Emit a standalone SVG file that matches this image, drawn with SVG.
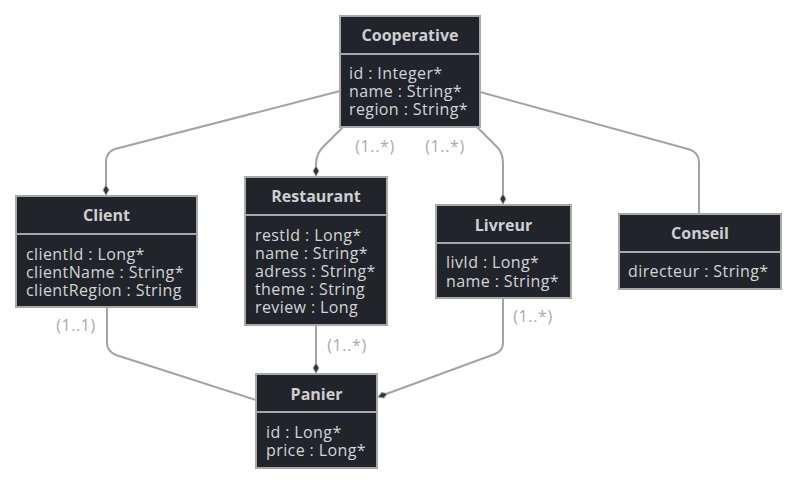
<svg xmlns="http://www.w3.org/2000/svg" width="796" height="484" viewBox="0 0 796 484">
<style>
.box{fill:#21242b;stroke:#a8a8a8;stroke-width:2}
.sep{stroke:#a8a8a8;stroke-width:2}
.title{font-family:"Open Sans","Noto Sans",sans-serif;font-size:16px;font-weight:bold;fill:#cfcfcf;text-anchor:middle}
.attr{font-family:"Open Sans","Noto Sans",sans-serif;font-size:16px;letter-spacing:0.4px;fill:#d4d4d4}
.edge{fill:none;stroke:#a3a3a3;stroke-width:2}
.lbl{font-family:"Open Sans","Noto Sans",sans-serif;font-size:16px;letter-spacing:0.6px;fill:#aaaaaa;text-anchor:middle}
</style>
<defs>
<marker id="diamond" viewBox="0 0 12 8" refX="11" refY="4" markerWidth="12" markerHeight="8" markerUnits="userSpaceOnUse" orient="auto">
<path d="M1,4 L6,1 L11,4 L6,7 Z" fill="#333" stroke="#a3a3a3" stroke-width="1"/>
</marker>
</defs>
<rect width="796" height="484" fill="#ffffff"/>
<g id="connectors">
<path class="edge" d="M340,91 L115,149 Q106,152 106,162 L106,195" marker-end="url(#diamond)"/>
<path class="edge" d="M343,127 L323,147 Q316,154 316,164 L316,176" marker-end="url(#diamond)"/>
<path class="edge" d="M477,127 L497,147 Q503,153 503,163 L503,204" marker-end="url(#diamond)"/>
<path class="edge" d="M480,92 L688,149 Q699,152 699,162 L699,214"/>
<path class="edge" d="M107,308 L107,343 Q107,351 116,355 L256,400"/>
<path class="edge" d="M316,326 L316,373" marker-end="url(#diamond)"/>
<path class="edge" d="M503,299 L503,343 Q503,351 495,354 L378,397" marker-end="url(#diamond)"/>
<text class="lbl" x="375" y="152">(1..*)</text>
<text class="lbl" x="445" y="152">(1..*)</text>
<text class="lbl" x="347" y="351">(1..*)</text>
<text class="lbl" x="533" y="322">(1..*)</text>
<text class="lbl" x="76" y="331">(1..1)</text>
</g>
<g id="Cooperative">
<rect class="box" x="340" y="16" width="140" height="111"/>
<line class="sep" x1="340" y1="54" x2="480" y2="54"/>
<text class="title" x="410" y="41">Cooperative</text>
<text class="attr" x="349" y="79">id : Integer*</text>
<text class="attr" x="349" y="97">name : String*</text>
<text class="attr" x="349" y="115">region : String*</text>
</g>
<g id="Client">
<rect class="box" x="16" y="196" width="181" height="111"/>
<line class="sep" x1="16" y1="234" x2="197" y2="234"/>
<text class="title" x="106.5" y="221">Client</text>
<text class="attr" x="26" y="260">clientId : Long*</text>
<text class="attr" x="26" y="278">clientName : String*</text>
<text class="attr" x="26" y="296">clientRegion : String</text>
</g>
<g id="Restaurant">
<rect class="box" x="245" y="177" width="142" height="148"/>
<line class="sep" x1="245" y1="215" x2="387" y2="215"/>
<text class="title" x="316" y="202">Restaurant</text>
<text class="attr" x="255" y="241">restId : Long*</text>
<text class="attr" x="255" y="259">name : String*</text>
<text class="attr" x="255" y="277">adress : String*</text>
<text class="attr" x="255" y="295">theme : String</text>
<text class="attr" x="255" y="313">review : Long</text>
</g>
<g id="Livreur">
<rect class="box" x="436" y="205" width="135" height="93"/>
<line class="sep" x1="436" y1="243" x2="571" y2="243"/>
<text class="title" x="503.5" y="231">Livreur</text>
<text class="attr" x="446" y="268">livId : Long*</text>
<text class="attr" x="446" y="287">name : String*</text>
</g>
<g id="Conseil">
<rect class="box" x="619" y="214" width="162" height="75"/>
<line class="sep" x1="619" y1="252" x2="781" y2="252"/>
<text class="title" x="700" y="239">Conseil</text>
<text class="attr" x="628" y="277">directeur : String*</text>
</g>
<g id="Panier">
<rect class="box" x="256" y="374" width="121" height="94"/>
<line class="sep" x1="256" y1="412" x2="377" y2="412"/>
<text class="title" x="316.5" y="400">Panier</text>
<text class="attr" x="266" y="438">id : Long*</text>
<text class="attr" x="266" y="456">price : Long*</text>
</g>
</svg>
